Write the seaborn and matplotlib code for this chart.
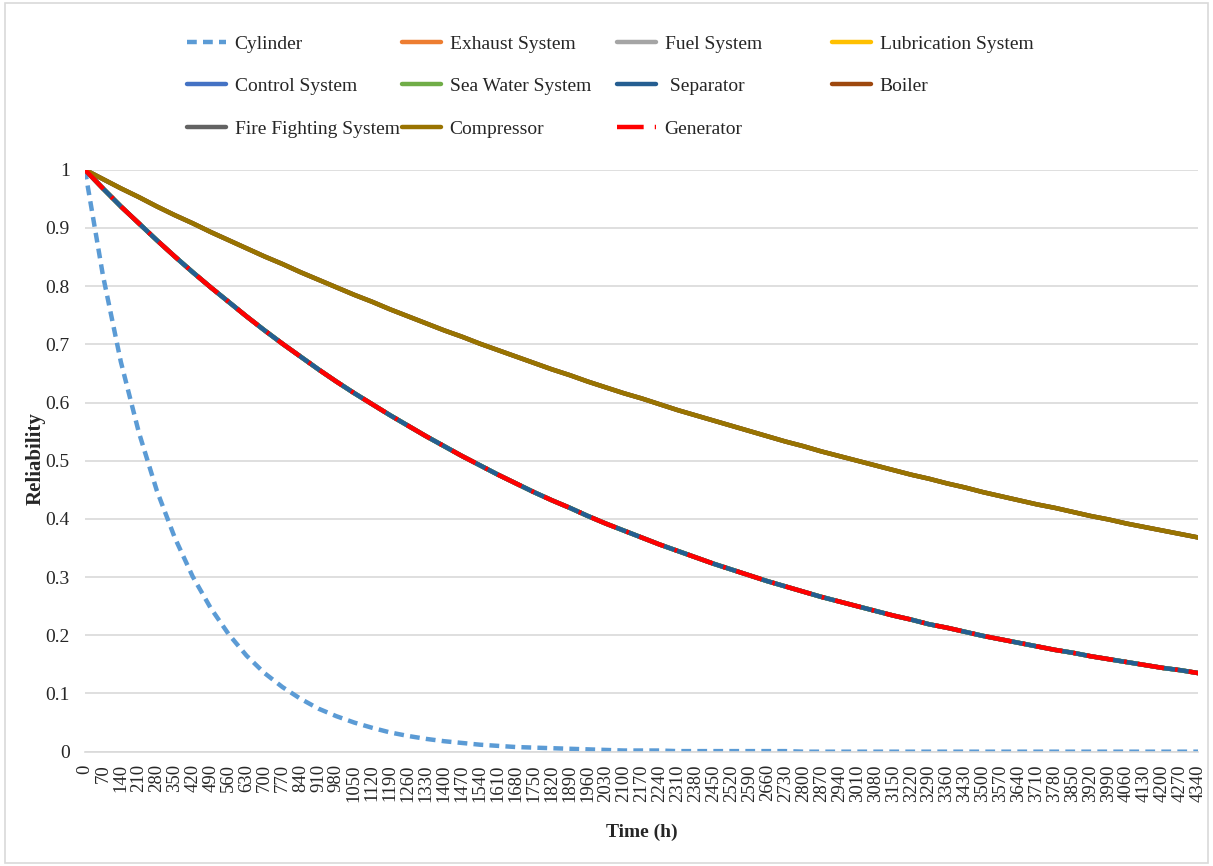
import matplotlib
matplotlib.use("Agg")
import matplotlib.pyplot as plt
import matplotlib.ticker as mticker
from matplotlib.patches import Rectangle
import seaborn as sns

# --------------------------
# Data
# --------------------------
time_h = list(range(0, 4341, 70))

cylinder = [1.000, 0.819, 0.670, 0.549, 0.449, 0.368, 0.301, 0.247, 0.202, 0.165,
            0.135, 0.111, 0.091, 0.074, 0.061, 0.050, 0.041, 0.033, 0.027, 0.022,
            0.018, 0.015, 0.012, 0.010, 0.008, 0.007, 0.006, 0.005, 0.004, 0.003,
            0.002, 0.002, 0.002, 0.001, 0.001, 0.001, 0.001, 0.001, 0.001, 0.001,
            0.000, 0.000, 0.000, 0.000, 0.000, 0.000, 0.000, 0.000, 0.000, 0.000,
            0.000, 0.000, 0.000, 0.000, 0.000, 0.000, 0.000, 0.000, 0.000, 0.000,
            0.000, 0.000, 0.000]

mid_curve = [1.000, 0.968, 0.937, 0.908, 0.879, 0.851, 0.824, 0.798, 0.773, 0.748,
             0.724, 0.701, 0.679, 0.657, 0.636, 0.616, 0.597, 0.578, 0.560, 0.542,
             0.525, 0.508, 0.492, 0.476, 0.461, 0.446, 0.432, 0.419, 0.405, 0.392,
             0.380, 0.368, 0.356, 0.345, 0.334, 0.323, 0.313, 0.303, 0.293, 0.284,
             0.275, 0.266, 0.258, 0.250, 0.242, 0.234, 0.227, 0.219, 0.213, 0.206,
             0.199, 0.193, 0.187, 0.181, 0.175, 0.170, 0.164, 0.159, 0.154, 0.149,
             0.144, 0.140, 0.135]

slow_curve = [1.000, 0.984, 0.968, 0.953, 0.937, 0.922, 0.908, 0.893, 0.879, 0.865,
              0.851, 0.838, 0.824, 0.811, 0.798, 0.785, 0.773, 0.760, 0.748, 0.736,
              0.724, 0.713, 0.701, 0.690, 0.679, 0.668, 0.657, 0.647, 0.636, 0.626,
              0.616, 0.607, 0.597, 0.587, 0.578, 0.569, 0.560, 0.551, 0.542, 0.533,
              0.525, 0.516, 0.508, 0.500, 0.492, 0.484, 0.476, 0.469, 0.461, 0.454,
              0.446, 0.439, 0.432, 0.425, 0.419, 0.412, 0.405, 0.399, 0.392, 0.386,
              0.380, 0.374, 0.368]

systems = ["Cylinder", "Exhaust System", "Fuel System", "Lubrication System",
           "Control System", "Sea Water System", " Separator", "Boiler",
           "Fire Fighting System", "Compressor", "Generator"]
values = [cylinder, mid_curve, mid_curve, mid_curve,
          mid_curve, mid_curve, mid_curve, slow_curve,
          slow_curve, slow_curve, mid_curve]
colors = ["#5B9BD5", "#ED7D31", "#A5A5A5", "#FFC000",
          "#4472C4", "#70AD47", "#255E91", "#9E480E",
          "#636363", "#997300", "#FF0000"]
styles = [(0, (2.2, 1.4)), "-", "-", "-",
          "-", "-", "-", "-",
          "-", "-", (0, (6, 2.5, 0.6, 2.5))]

# --------------------------
# Plot
# --------------------------
sns.set_theme(style="white")
plt.rcParams["font.family"] = ["Liberation Serif", "DejaVu Serif"]

W, H = 1213, 866
fig = plt.figure(figsize=(W / 100, H / 100), dpi=100)
ax = fig.add_axes([0.070, 0.132, 0.918, 0.672])

for name, vals, col, ls in zip(systems, values, colors, styles):
    sns.lineplot(x=time_h, y=vals, ax=ax, color=col, linewidth=3.2,
                 linestyle=ls, label=name)

ax.set_xlim(time_h[0], time_h[-1])
ax.set_ylim(0, 1)
ax.set_yticks([i / 10 for i in range(11)])
ax.yaxis.set_major_formatter(mticker.FuncFormatter(lambda v, p: f"{v:g}"))
ax.set_xticks(time_h)
ax.set_xticklabels([str(t) for t in time_h], rotation=90)
ax.tick_params(axis="y", labelsize=14, pad=11, length=0)
ax.tick_params(axis="x", labelsize=13.5, pad=9, length=0)

ax.grid(axis="y", color="#D9D9D9", linewidth=1.2)
ax.set_axisbelow(True)
for s in ["left", "right", "top"]:
    ax.spines[s].set_visible(False)
ax.spines["bottom"].set_color("#D9D9D9")
ax.spines["bottom"].set_linewidth(1.2)

fig.text(36 / W, 1 - 459 / H, "Reliability", rotation=90, ha="center", va="center",
         fontsize=15, fontweight="bold")
fig.text(642 / W, 1 - 832 / H, "Time (h)", ha="center", va="center",
         fontsize=14, fontweight="bold")

# legend: four equal-width columns, filled row by row like the original
handles, labels = ax.get_legend_handles_labels()
ax.get_legend().remove()
col_x = [187, 402, 617, 832]
for c, x in enumerate(col_x):
    idx = list(range(c, len(handles), 4))
    fig.legend([handles[i] for i in idx], [labels[i] for i in idx],
               loc="upper left", bbox_to_anchor=(x / W, 1 - 35 / H),
               frameon=False, fontsize=14, handlelength=2.0, handletextpad=0.45,
               labelspacing=1.28, borderpad=0, borderaxespad=0)

fig.patches.append(Rectangle((0.004, 0.004), 0.992, 0.992, transform=fig.transFigure,
                             fill=False, edgecolor="#D9D9D9", linewidth=1.2))

fig.savefig("out.png", dpi=100)
